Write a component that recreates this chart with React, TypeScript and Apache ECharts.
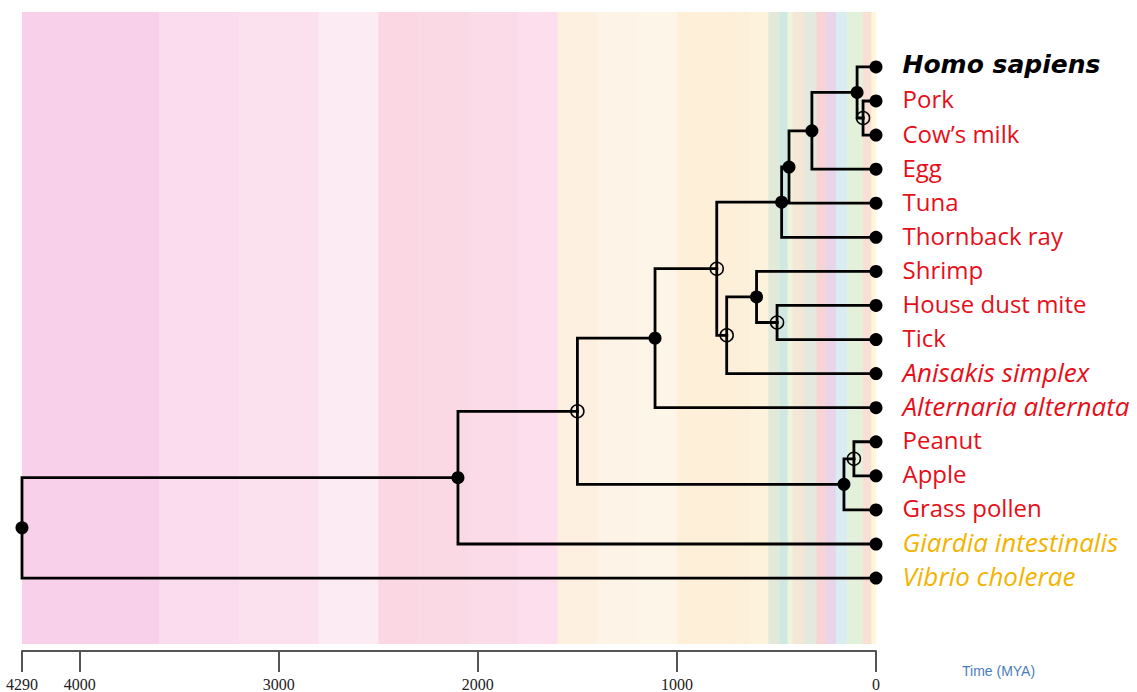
import React, { useEffect, useRef } from 'react';
import * as echarts from 'echarts';

// ---------- data ----------
const leafNames = [
  'Homo sapiens', 'Pork', 'Cow’s milk', 'Egg', 'Tuna', 'Thornback ray', 'Shrimp',
  'House dust mite', 'Tick', 'Anisakis simplex', 'Alternaria alternata', 'Peanut',
  'Apple', 'Grass pollen', 'Giardia intestinalis', 'Vibrio cholerae',
];
// 'human' | 'allergen' | 'pathogen'
const leafGroups = [
  'human', 'allergen', 'allergen', 'allergen', 'allergen', 'allergen', 'allergen',
  'allergen', 'allergen', 'allergen', 'allergen', 'allergen', 'allergen', 'allergen',
  'pathogen', 'pathogen',
];
const leafItalic = [
  true, false, false, false, false, false, false, false, false, true, true, false,
  false, false, true, true,
];

const nodeIds = ['root', 'n2100', 'n1500', 'n1110', 'n800', 'n750', 'n600', 'n497', 'n474', 'n437', 'n322', 'n95', 'n65', 'n161', 'n111'];
const nodeAges = [4290, 2100, 1500, 1110, 800, 750, 600, 497, 474, 437, 322, 95, 65, 161, 111];
const nodeChildren = [
  ['n2100', 'Vibrio cholerae'],
  ['n1500', 'Giardia intestinalis'],
  ['n1110', 'n161'],
  ['n800', 'Alternaria alternata'],
  ['n474', 'n750'],
  ['n600', 'Anisakis simplex'],
  ['Shrimp', 'n497'],
  ['House dust mite', 'Tick'],
  ['n437', 'Thornback ray'],
  ['n322', 'Tuna'],
  ['n95', 'Egg'],
  ['Homo sapiens', 'n65'],
  ['Pork', 'Cow’s milk'],
  ['n111', 'Grass pollen'],
  ['Peanut', 'Apple'],
];
const nodeFilled = [true, true, false, true, false, false, true, false, true, true, true, true, false, true, false];

const bandStarts = [4290, 3600, 3200, 2800, 2500, 2300, 2050, 1800, 1600, 1400, 1200, 1000, 720, 635, 541, 485, 444, 419, 359, 299, 252, 201, 145, 66, 23, 2.6];
const bandEnds = [3600, 3200, 2800, 2500, 2300, 2050, 1800, 1600, 1400, 1200, 1000, 720, 635, 541, 485, 444, 419, 359, 299, 252, 201, 145, 66, 23, 2.6, 0];
const bandColors = [
  '#f9d0e9', '#fbdcee', '#fbe1ee', '#fdebf4', '#fad7e3', '#fad9e4', '#fbdbe7', '#fcdeec',
  '#fdf0e0', '#fdf3e6', '#fef5e9', '#fdefd8', '#fdf0da', '#fdf2dc',
  '#e2e9d8', '#cfe9e2', '#eef5dc', '#f4e7d6', '#e3e9de', '#f8d4d4', '#e8d5ea',
  '#d8ecf2', '#e3f0da', '#fadfd6', '#fdf6da', '#fdfadf',
];

const axisTicks = [4290, 4000, 3000, 2000, 1000, 0];
const axisMax = 4290;

// ---------- layout helpers ----------
const GRID_LEFT = 22;
const GRID_RIGHT = 261;
const GRID_TOP = 12;
const GRID_BOTTOM = 47;
const Y_MIN = -1.611;
const Y_MAX = 16.934;

function buildTree() {
  const yOf: Record<string, number> = {};
  const ageOf: Record<string, number> = {};
  leafNames.forEach((n, i) => { yOf[n] = i; ageOf[n] = 0; });
  nodeIds.forEach((id, i) => { ageOf[id] = nodeAges[i]; });
  const idx: Record<string, number> = {};
  nodeIds.forEach((id, i) => { idx[id] = i; });
  const getY = (id: string): number => {
    if (yOf[id] !== undefined) return yOf[id];
    const ch = nodeChildren[idx[id]];
    const v = ch.reduce((s, c) => s + getY(c), 0) / ch.length;
    yOf[id] = v;
    return v;
  };
  nodeIds.forEach((id) => getY(id));
  const edges: any[] = [];
  nodeIds.forEach((id, i) => {
    nodeChildren[i].forEach((c) => {
      edges.push({
        coords: [
          [ageOf[id], yOf[id]],
          [ageOf[id], yOf[c]],
          [ageOf[c], yOf[c]],
        ],
      });
    });
  });
  return { yOf, ageOf, edges };
}

export default function App() {
  const ref = useRef<HTMLDivElement>(null);
  useEffect(() => {
    if (!ref.current) return;
    const chart = echarts.init(ref.current, undefined, { renderer: 'svg' });
    const { yOf, edges } = buildTree();

    const filledNodes = nodeIds.filter((_, i) => nodeFilled[i]).map((id) => [nodeAges[nodeIds.indexOf(id)], yOf[id]]);
    const openNodes = nodeIds.filter((_, i) => !nodeFilled[i]).map((id) => [nodeAges[nodeIds.indexOf(id)], yOf[id]]);

    const colorFor = (g: string) => (g === 'human' ? '#000000' : g === 'pathogen' ? '#f2b400' : '#e60f19');

    const leafData = leafNames.map((n, i) => {
      const human = leafGroups[i] === 'human';
      return {
        value: [0, i],
        name: n,
        label: {
          show: true,
          position: 'right',
          distance: 20,
          offset: [0, -2],
          formatter: n,
          color: colorFor(leafGroups[i]),
          fontStyle: leafItalic[i] ? 'italic' : 'normal',
          fontWeight: human ? 'bold' : 'normal',
          fontFamily: human ? '"DejaVu Sans", sans-serif' : '"Open Sans", sans-serif',
          fontSize: human ? 25 : leafItalic[i] ? 26 : 24,
          opacity: 1,
        },
      };
    });

    const bandData = bandStarts.map((s, i) => [s, bandEnds[i], i]);

    chart.setOption({
      animation: false,
      backgroundColor: '#ffffff',
      grid: { left: GRID_LEFT, right: GRID_RIGHT, top: GRID_TOP, bottom: GRID_BOTTOM },
      xAxis: {
        type: 'value',
        inverse: true,
        min: 0,
        max: axisMax,
        offset: 7,
        splitLine: { show: false },
        axisLine: { show: true, onZero: false, lineStyle: { color: '#555555', width: 2 } },
        axisTick: { show: true, length: 21, inside: false, customValues: axisTicks, lineStyle: { color: '#555555', width: 2 } },
        axisLabel: {
          customValues: axisTicks,
          margin: 25,
          color: '#222222',
          fontFamily: '"Liberation Serif", "Times New Roman", serif',
          fontSize: 16,
          formatter: (v: number) => String(v),
        },
      },
      yAxis: {
        type: 'value',
        inverse: true,
        min: Y_MIN,
        max: Y_MAX,
        show: false,
      },
      graphic: [
        {
          type: 'text',
          left: 962,
          top: 664,
          style: {
            text: 'Time (MYA)',
            fill: '#4a7dbd',
            font: '14px "Liberation Sans", Arial, sans-serif',
          },
        },
      ],
      series: [
        {
          type: 'custom',
          z: 0,
          silent: true,
          data: bandData,
          renderItem: (params: any, api: any) => {
            const cs = params.coordSys;
            const a = api.coord([api.value(0), 0]);
            const b = api.coord([api.value(1), 0]);
            const x0 = Math.min(a[0], b[0]);
            const w = Math.abs(b[0] - a[0]);
            return {
              type: 'rect',
              shape: { x: x0, y: cs.y, width: w + 0.5, height: cs.height },
              style: { fill: bandColors[api.value(2)] },
            };
          },
        },
        {
          type: 'lines',
          coordinateSystem: 'cartesian2d',
          polyline: true,
          z: 2,
          silent: true,
          lineStyle: { color: '#000000', width: 2.8, opacity: 1, join: 'miter', cap: 'square' },
          data: edges,
        },
        {
          type: 'scatter',
          z: 3,
          symbol: 'circle',
          symbolSize: 13,
          itemStyle: { color: '#000000', opacity: 1 },
          data: filledNodes,
        },
        {
          type: 'scatter',
          z: 3,
          symbol: 'circle',
          symbolSize: 13,
          itemStyle: { color: 'rgba(0,0,0,0)', borderColor: '#000000', borderWidth: 1.5, opacity: 1 },
          data: openNodes,
        },
        {
          type: 'scatter',
          z: 4,
          symbol: 'circle',
          symbolSize: 13,
          itemStyle: { color: '#000000', opacity: 1 },
          data: leafData,
        },
      ],
    });
    return () => chart.dispose();
  }, []);
  return <div ref={ref} style={{ position: 'fixed', left: 0, top: 0, width: 1137, height: 692 }} />;
}
